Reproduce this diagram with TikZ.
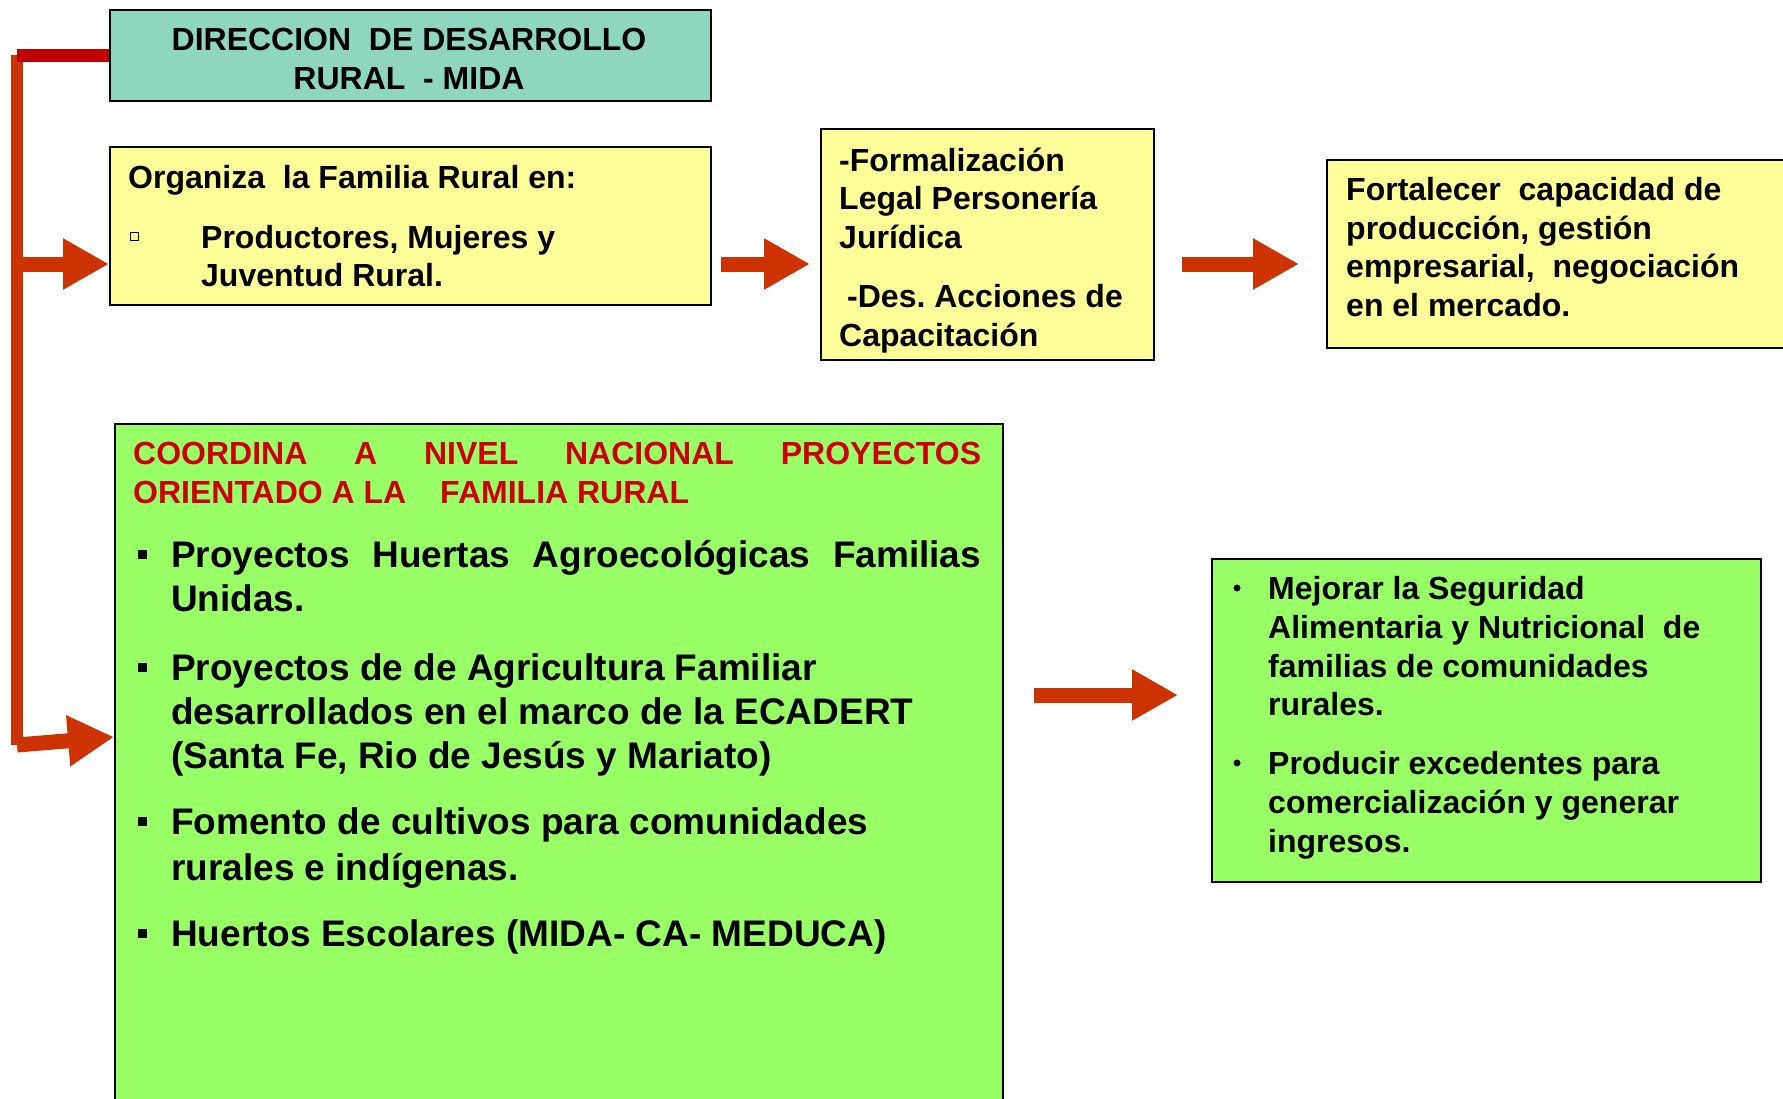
\documentclass[tikz,border=0pt]{standalone}
\usepackage{fontspec}
\setmainfont{Liberation Sans}
\usetikzlibrary{arrows.meta}
\definecolor{boxteal}{HTML}{8FD6C1}
\definecolor{boxyellow}{HTML}{FFFF99}
\definecolor{boxgreen}{HTML}{99FF66}
\definecolor{arrowred}{HTML}{CC3300}
\definecolor{darkred}{HTML}{C00000}
\definecolor{headred}{HTML}{CC0000}
\begin{document}
\frenchspacing
\begin{tikzpicture}[x=1pt,y=-1pt,
  box/.style={draw=black, line width=1.5pt, anchor=north west, inner sep=0pt},
  txt/.style={anchor=base west, inner sep=0pt, font=\fontsize{32}{38}\selectfont\bfseries},
  txtb/.style={anchor=base west, inner sep=0pt, font=\fontsize{37}{44}\selectfont\bfseries},
  blockarrow/.style={draw=arrowred, line width=15pt, -{Triangle[length=46pt,width=48pt]}},
  spine/.style={draw=arrowred, line width=12.5pt},
  topbar/.style={draw=darkred, line width=13pt},
  sqbullet/.style={fill=black, minimum size=9pt, inner sep=0pt},
  hollowbullet/.style={draw=black, line width=1pt, minimum size=8pt, inner sep=0pt},
  dotbullet/.style={fill=black, circle, minimum size=7pt, inner sep=0pt}
]
\useasboundingbox (0,0) rectangle (1783,1098);
\clip (0,0) rectangle (1783,1098);
\fill[white] (0,0) rectangle (1783,1098);

% boxes
\node[box, fill=boxteal, minimum width=601pt, minimum height=91pt] (title) at (109,9) {};
\node[box, fill=boxyellow, minimum width=601pt, minimum height=158pt] (org) at (109,146) {};
\node[box, fill=boxyellow, minimum width=333pt, minimum height=231pt] (legal) at (820,128) {};
\node[box, fill=boxyellow, minimum width=480pt, minimum height=188pt] (fort) at (1326,159) {};
\node[box, fill=boxgreen, minimum width=888pt, minimum height=690pt] (coord) at (114,423) {};
\node[box, fill=boxgreen, minimum width=549pt, minimum height=323pt] (mejorar) at (1211,558) {};

% connector coordinates
\coordinate (spinetop) at (17,55);
\coordinate (spinebot) at (17,745);
\coordinate (r1) at (0,264);
\coordinate (r3) at (0,695);
\coordinate (r4) at (0,737);

% spine and connectors
\draw[spine] (spinetop) -- (spinebot);
\draw[topbar] (title.west) -- (title.west -| spinetop);
\draw[blockarrow] (spinetop |- r1) -- (org.west |- r1);
\draw[blockarrow] (spinebot) -- (coord.west |- r4);
\draw[blockarrow, shorten <=9pt, shorten >=10pt] (org.east |- r1) -- (legal.west |- r1);
\draw[blockarrow, shorten <=27pt, shorten >=27pt] (legal.east |- r1) -- (fort.west |- r1);
\draw[blockarrow, shorten <=30pt, shorten >=33pt] (coord.east |- r3) -- (mejorar.west |- r3);

% title text
\node[txt, anchor=base] (tl1) at (409,50) {DIRECCION~ DE DESARROLLO};
\node[txt, anchor=base] (tl2) at (409,89) {RURAL~ - MIDA};

% org text
\node[txt] (o1) at (128,188) {Organiza~ la Familia Rural en:};
\node[hollowbullet] (ob1) at (134,236) {};
\node[txt] (o2) at (201,248) {Productores, Mujeres y};
\node[txt] (o3) at (201,286) {Juventud Rural.};

% legal text
\node[txt] (l1) at (839,171) {-Formalización};
\node[txt] (l2) at (839,209) {Legal Personería};
\node[txt] (l3) at (839,248) {Jurídica};
\node[txt] (l4) at (847,307) {-Des. Acciones de};
\node[txt] (l5) at (839,346) {Capacitación};

% fort text
\node[txt] (f1) at (1346,200) {Fortalecer~ capacidad de};
\node[txt] (f2) at (1346,239) {producción, gestión};
\node[txt] (f3) at (1346,277) {empresarial,~ negociación};
\node[txt] (f4) at (1346,316) {en el mercado.};

% coord text
\node[txt, text=headred] (c1) at (133,464) {\makebox[848pt][s]{COORDINA A NIVEL NACIONAL PROYECTOS}};
\node[txt, text=headred] (c2) at (133,503) {ORIENTADO A LA\hspace{25pt} FAMILIA RURAL};
\node[sqbullet] (cb1) at (142,554) {};
\node[txtb] (c3) at (171,567) {\makebox[810pt][s]{Proyectos Huertas Agroecológicas Familias}};
\node[txtb] (c4) at (171,611) {Unidas.};
\node[sqbullet] (cb2) at (142,667) {};
\node[txtb] (c5) at (171,680) {Proyectos de de Agricultura Familiar};
\node[txtb] (c6) at (171,724) {desarrollados en el marco de la ECADERT};
\node[txtb] (c7) at (171,768) {(Santa Fe, Rio de Jesús y Mariato)};
\node[sqbullet] (cb3) at (142,821) {};
\node[txtb] (c8) at (171,834) {Fomento de cultivos para comunidades};
\node[txtb] (c9) at (171,880) {rurales e indígenas.};
\node[sqbullet] (cb4) at (142,933) {};
\node[txtb] (c10) at (171,946) {Huertos Escolares (MIDA- CA- MEDUCA)};

% mejorar text
\node[dotbullet] (mb1) at (1237,588) {};
\node[txt] (m1) at (1268,599) {Mejorar la Seguridad};
\node[txt] (m2) at (1268,638) {Alimentaria y Nutricional~ de};
\node[txt] (m3) at (1268,677) {familias de comunidades};
\node[txt] (m4) at (1268,715) {rurales.};
\node[dotbullet] (mb2) at (1237,763) {};
\node[txt] (m5) at (1268,774) {Producir excedentes para};
\node[txt] (m6) at (1268,813) {comercialización y generar};
\node[txt] (m7) at (1268,852) {ingresos.};
\end{tikzpicture}
\end{document}
